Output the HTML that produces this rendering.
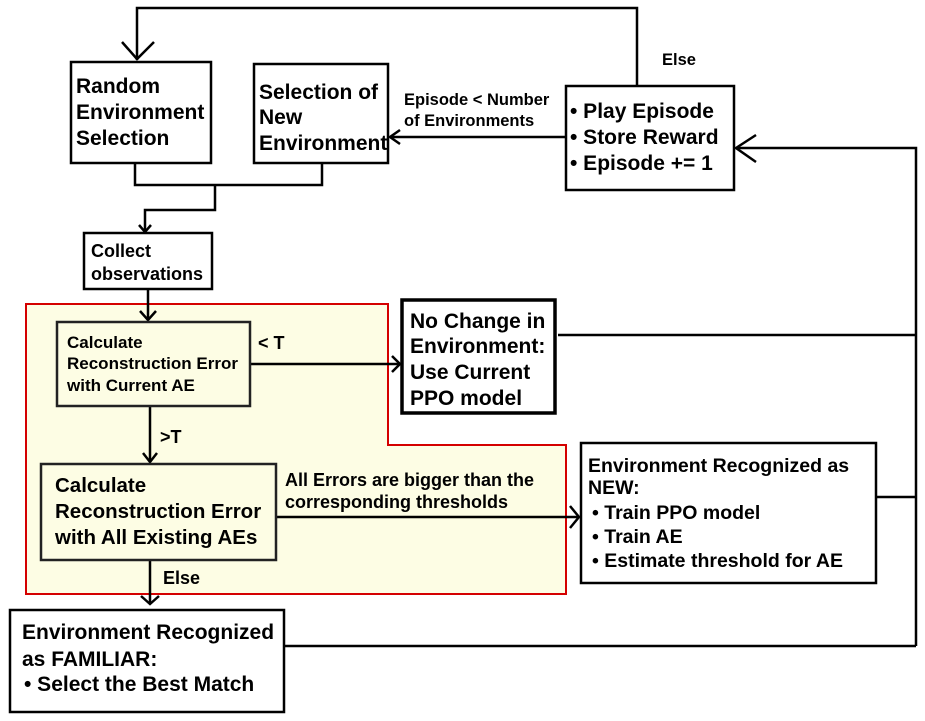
<!DOCTYPE html>
<html><head><meta charset="utf-8"><style>
html,body{margin:0;padding:0;background:#fff;}
svg{display:block;}
text{font-family:"Liberation Sans",Arial,sans-serif;font-weight:bold;fill:#000;}
</style></head><body>
<svg width="925" height="721" viewBox="0 0 925 721" xmlns="http://www.w3.org/2000/svg">
<polygon points="26,304 388,304 388,445 566,445 566,594 26,594" fill="#fdfde4" stroke="#d40000" stroke-width="2"/>
<g fill="none" stroke="#000" stroke-width="2.5">
<polyline points="637,86 637,8 137,8 137,60"/>
<polyline points="122,42 137,59 154,42"/>
<line x1="566" y1="137" x2="390" y2="137"/>
<polyline points="400,130 390,137 400,144"/>
<polyline points="135,163 135,185 322,185 322,163"/>
<polyline points="215,185 215,210 145,210 145,232"/>
<polyline points="139,225 145,232 151,225"/>
<line x1="148" y1="289" x2="148" y2="320"/>
<polyline points="140,311 148,320 156,311"/>
<line x1="250" y1="364" x2="400" y2="364"/>
<polyline points="392,356 400,364 392,372"/>
<line x1="150" y1="406" x2="150" y2="462"/>
<polyline points="143,453 150,462 157,453"/>
<line x1="276" y1="517" x2="579" y2="517"/>
<polyline points="570,506 579,517 570,528"/>
<line x1="150" y1="560" x2="150" y2="604"/>
<polyline points="141,596 150,604 159,596"/>
<line x1="558" y1="335" x2="916" y2="335"/>
<line x1="876" y1="497" x2="916" y2="497"/>
<line x1="284" y1="646" x2="916" y2="646"/>
<polyline points="916,646 916,148 736,148"/>
<polyline points="756,135 736,148 756,162"/>
</g>
<g fill="#fff" stroke="#000" stroke-width="2.5">
<rect x="71" y="62" width="140" height="101"/>
<rect x="254" y="64" width="134" height="99"/>
<rect x="566" y="86" width="168" height="104"/>
<rect x="84" y="233" width="128" height="56"/>
<rect x="402" y="300" width="153" height="113" stroke-width="3.5"/>
<rect x="581" y="443" width="295" height="140"/>
<rect x="10" y="610" width="274" height="102"/>
</g>
<g fill="#fdfde4" stroke="#222" stroke-width="2.5">
<rect x="57" y="322" width="193" height="84"/>
<rect x="41" y="464" width="235" height="96"/>
</g>
<g font-size="21">
<text x="76" y="93">Random</text>
<text x="76" y="119">Environment</text>
<text x="76" y="145">Selection</text>
<text x="259" y="99">Selection of</text>
<text x="259" y="124">New</text>
<text x="259" y="150">Environment</text>
<text x="570" y="118">• Play Episode</text>
<text x="570" y="144">• Store Reward</text>
<text x="570" y="170">• Episode += 1</text>
<text x="410" y="328">No Change in</text>
<text x="410" y="353">Environment:</text>
<text x="410" y="379">Use Current</text>
<text x="410" y="405">PPO model</text>
<text x="22" y="639">Environment Recognized</text>
<text x="22" y="666">as FAMILIAR:</text>
<text x="24" y="691">• Select the Best Match</text>
</g>
<g font-size="20.5">
<text x="55" y="492">Calculate</text>
<text x="55" y="518">Reconstruction Error</text>
<text x="55" y="544">with All Existing AEs</text>
</g>
<g font-size="19.5">
<text x="588" y="472">Environment Recognized as</text>
<text x="588" y="494">NEW:</text>
<text x="592" y="519">• Train PPO model</text>
<text x="592" y="543">• Train AE</text>
<text x="592" y="567">• Estimate threshold for AE</text>
</g>
<g font-size="18">
<text x="160" y="443">&gt;T</text>
<text x="258" y="349">&lt; T</text>
<text x="91" y="257">Collect</text>
<text x="91" y="280">observations</text>
<text x="285" y="486">All Errors are bigger than the</text>
<text x="285" y="508">corresponding thresholds</text>
<text x="163" y="584">Else</text>
</g>
<g font-size="17">
<text x="67" y="348">Calculate</text>
<text x="67" y="369">Reconstruction Error</text>
<text x="67" y="391">with Current AE</text>
</g>
<g font-size="16.5">
<text x="404" y="105">Episode &lt; Number</text>
<text x="404" y="126">of Environments</text>
<text x="662" y="65">Else</text>
</g>
</svg>
</body></html>
